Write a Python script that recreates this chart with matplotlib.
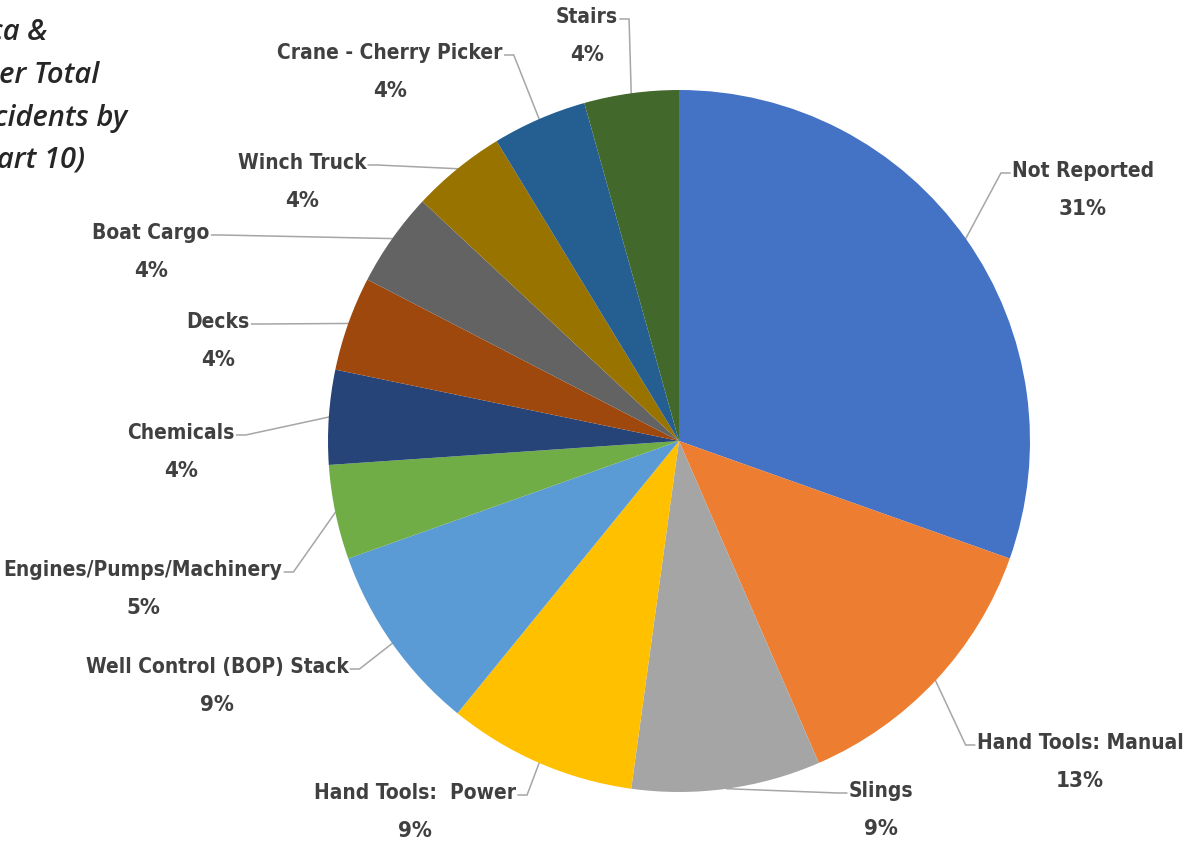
import matplotlib
matplotlib.use("Agg")
import matplotlib.pyplot as plt
import numpy as np

W, H = 1184, 846

categories = [
    "Not Reported", "Hand Tools: Manual", "Slings", "Hand Tools:  Power",
    "Well Control (BOP) Stack", "Engines/Pumps/Machinery", "Chemicals", "Decks",
    "Boat Cargo", "Winch Truck", "Crane - Cherry Picker", "Stairs",
]
counts = [7, 3, 2, 2, 2, 1, 1, 1, 1, 1, 1, 1]
pct_labels = ["31%", "13%", "9%", "9%", "9%", "5%", "4%", "4%", "4%", "4%", "4%", "4%"]
colors = [
    "#4472C4", "#ED7D31", "#A5A5A5", "#FFC000", "#5B9BD5", "#70AD47",
    "#264478", "#9E480E", "#636363", "#997300", "#255E91", "#43682B",
]
title_lines = ["Europe, Africa &", "Asia: Number Total", "Lifting Incidents by", "Equipment (Chart 10)"]

# label centres (image pixels: x, y of the name line)
label_xy = [
    (1083, 171), (1080, 743), (881, 791), (415, 793), (217, 667), (143, 570),
    (181, 433), (218, 322), (151, 233), (302, 163), (390, 53), (587, 17),
]
title_xy = [(47, 32), (100, 75), (127, 118), (85, 160)]

CENTER = (679, H - 441)
RADIUS = 351
TEXT = "#404040"
LEADER = "#A6A6A6"
FONT = ["DejaVu Sans"]

fig = plt.figure(figsize=(W / 100, H / 100), dpi=100)
ax = fig.add_axes([0, 0, 1, 1])

wedges, _ = ax.pie(counts, colors=colors, startangle=90, counterclock=False,
                   center=CENTER, radius=RADIUS, frame=True,
                   wedgeprops=dict(linewidth=0))
ax.set_xlim(0, W)
ax.set_ylim(0, H)
ax.set_aspect("equal")
ax.set_axis_off()

names = []
for (x, y), name, pct in zip(label_xy, categories, pct_labels):
    t = ax.text(x, H - y, name, ha="center", va="center", fontsize=15,
                fontweight="bold", fontstretch="condensed", color=TEXT, family=FONT)
    ax.text(x, H - y - 38, pct, ha="center", va="center", fontsize=16,
            fontweight="bold", fontstretch="condensed", color=TEXT, family=FONT)
    names.append(t)

# the title sits partly outside the canvas, as in the source image
for (x, y), line in zip(title_xy, title_lines):
    ax.text(x, H - y, line, ha="right", va="center", fontsize=21,
            fontstyle="italic", fontweight="semibold", color="#262626",
            family=["Open Sans", "DejaVu Sans"])

fig.canvas.draw()
renderer = fig.canvas.get_renderer()
inv = ax.transData.inverted()
for w, t in zip(wedges, names):
    mid = np.deg2rad((w.theta1 + w.theta2) / 2)
    px, py = CENTER[0] + RADIUS * np.cos(mid), CENTER[1] + RADIUS * np.sin(mid)
    bb = t.get_window_extent(renderer).transformed(inv)
    ty = (bb.y0 + bb.y1) / 2 - 2
    if bb.x0 > CENTER[0]:
        edge = bb.x0 - 2
        elbow = edge - 9
    else:
        edge = bb.x1 + 2
        elbow = edge + 9
    ax.plot([px, elbow, edge], [py, ty, ty], color=LEADER, lw=1.1,
            solid_joinstyle="miter", zorder=0)

fig.savefig("out.png", dpi=100)
